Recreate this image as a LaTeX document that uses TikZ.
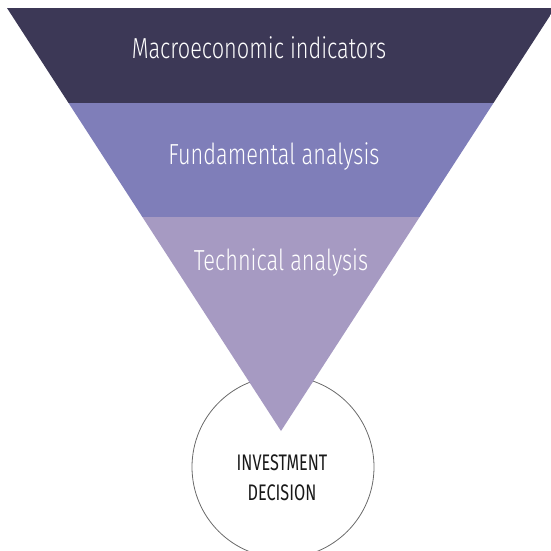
\documentclass[tikz,border=0pt]{standalone}
\usepackage{fontspec}
\setmainfont{Fira Sans Light}[FakeStretch=0.75]
\newfontfamily\decisionfont{Fira Sans}[FakeStretch=0.72]
\definecolor{macroband}{HTML}{3C3856}
\definecolor{fundband}{HTML}{7F7EB9}
\definecolor{techband}{HTML}{A69AC2}
\definecolor{ringgray}{HTML}{6A6A6A}

\begin{document}
\begin{tikzpicture}[x=1pt,y=-1pt,
    bandlabel/.style={white, font=\fontsize{29}{34}\selectfont},
    decisionnode/.style={circle, draw=ringgray, line width=0.8pt, fill=white,
      minimum size=182pt},
    decisiontext/.style={align=center, text=black!90,
      font=\decisionfont\fontsize{22.5}{30}\selectfont}]
       \useasboundingbox (0,0) rectangle (551,550);

       \node[decisionnode] (decision) at (283,467) {};
       \node[decisiontext] (decisionlabel) at (282,478) {INVESTMENT\\DECISION};

       \begin{scope}
         \clip (7,8) -- (555,8) -- (281,431) -- cycle;
         \fill[macroband] (0,0) rectangle (560,103);
         \fill[fundband] (0,103) rectangle (560,217);
         \fill[techband] (0,217) rectangle (560,440);
       \end{scope}

       \node[bandlabel] (macro) at (259,48) {Macroeconomic indicators};
       \node[bandlabel] (fund) at (274,157) {Fundamental analysis};
       \node[bandlabel] (tech) at (281,263) {Technical analysis};
      \end{tikzpicture}
\end{document}
